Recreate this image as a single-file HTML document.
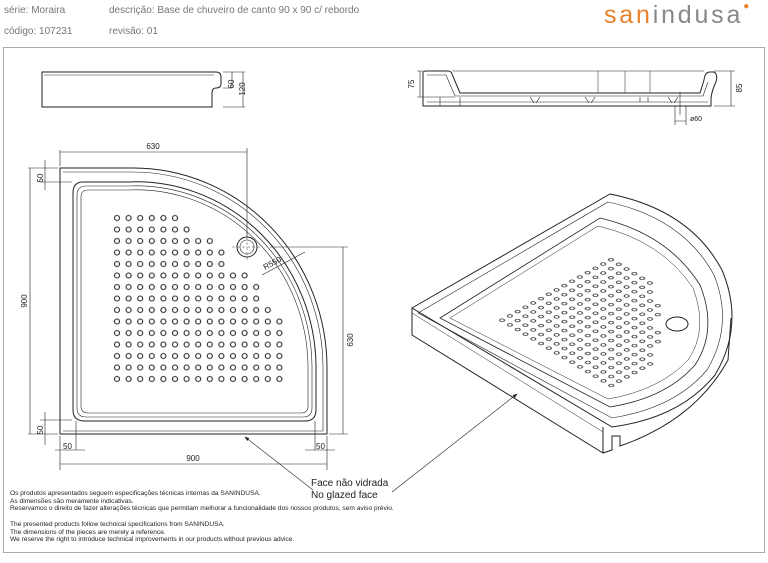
<!DOCTYPE html>
<html><head><meta charset="utf-8"><style>
html,body{margin:0;padding:0;background:#fff;}
body{width:768px;height:563px;position:relative;overflow:hidden;font-family:"Liberation Sans",sans-serif;}
.h{position:absolute;font-size:10px;color:#777;white-space:nowrap;}
.f{position:absolute;left:10px;font-size:6.6px;color:#222;line-height:7.6px;white-space:nowrap;}
</style></head><body>
<div class="h" style="left:4px;top:5px">série: Moraira</div>
<div class="h" style="left:109px;top:5px">descrição: Base de chuveiro de canto 90 x 90 c/ rebordo</div>
<div class="h" style="left:4px;top:26px">código: 107231</div>
<div class="h" style="left:109px;top:26px">revisão: 01</div>
<div style="position:absolute;left:604px;top:1px;font-size:25px;letter-spacing:2.8px;color:#888"><span style="color:#e8822a">san</span>indusa<span style="color:#e8822a;font-size:10px;vertical-align:top">●</span></div>
<div style="position:absolute;left:3px;top:47px;width:760px;height:504px;border:1.5px solid #aaa"></div>
<svg width="768" height="563" style="position:absolute;left:0;top:0" font-family="Liberation Sans,sans-serif">
<defs>
<pattern id="pd" patternUnits="userSpaceOnUse" x="111.2" y="212.25" width="11.6" height="11.5">
<circle cx="5.8" cy="5.75" r="2.5" fill="none" stroke="#222" stroke-width="1.1"/>
</pattern>
<clipPath id="cp"><polygon points="111,212 181,212 181,224 193,224 193,235 216,235 216,247 227,247 227,270 250,270 250,281 262,281 262,304 273,304 273,316 285,316 285,385 111,385"/></clipPath>
<g id="dots"><rect x="111" y="212" width="175" height="174" fill="url(#pd)" clip-path="url(#cp)"/></g>
<marker id="ar" markerWidth="8" markerHeight="6" refX="7" refY="3" orient="auto"><path d="M0,0L8,3L0,6z" fill="#222"/></marker>
</defs>
<g fill="none" stroke="#222" stroke-width="1">
<!-- side profile left -->
<path d="M42,72 L216,72 Q221,72 221,77 L221,84 Q221,88 216,88 Q212,88 212,93 L212,107 L42,107 Z"/>
<line x1="44" y1="75" x2="214" y2="75" stroke-width="0.5"/>
<path d="M223,72 L245,72 M223,88 L232,88 M223,107 L245,107 M232,72 L232,88 M243,72 L243,107" stroke-width="0.6"/>
<!-- section right -->
<path d="M423,73 Q423,71 426,71 L448,71 Q451,71 452,74 L460,93 L700,93 L704,80 Q705,72 710,72 L714,72 Q718,74 716,82 Q712,90 711,98 L711,106 L423,106 Z"/>
<path d="M427,75 L446,75 L455,96 L703,96 L708,82 M427,102 L708,102 M440,97 L440,106 M460,97 L460,106 M530,97 L534,103 M540,97 L536,103 M585,97 L589,103 M595,97 L591,103 M640,97 L640,102 M648,97 L648,102 M668,97 L672,103 M678,97 L674,103" stroke-width="0.6"/>
<path d="M452,71 L704,71 M598,71 L598,93 M625,71 L625,93 M650,71 L650,93" stroke-width="0.5"/>
<path d="M417,71 L423,71 M417,97 L455,97 M420,71 L420,97 M714,71 L735,71 M714,106 L735,106 M731,71 L731,106 M675,106 L675,125 M686,106 L686,125 M675,121 L686,121 M680,92 L680,115" stroke-width="0.6"/>
<!-- plan -->
<path d="M60,168 L133,168 A194 200 0 0 1 327,368 L327,434 L60,434 Z"/>
<path d="M63,172 L133,172 A190 196 0 0 1 323,368 L323,431 L63,431" stroke-width="0.6"/>
<path d="M83,182 L128,182 A180 186 0 0 1 316,366 L316,410 Q316,421 305,421 L85,421 Q73,421 73,410 L73,193 Q73,182 83,182 Z"/>
<path d="M86,186 L128,186 A176 182 0 0 1 312,366 L312,408 Q312,417 303,417 L86,417 Q77,417 77,408 L77,195 Q77,186 86,186 Z" stroke-width="0.6"/>
<path d="M88,190 L128,190 A172 178 0 0 1 308,366 L308,406 Q308,413 301,413 L88,413 Q81,413 81,406 L81,197 Q81,190 88,190 Z" stroke-width="0.6"/>
<circle cx="247" cy="247" r="10"/><circle cx="247" cy="247" r="7" stroke-width="0.6"/>
<path d="M232,247 L262,247 M247,232 L247,262" stroke-width="0.4" stroke-dasharray="3,2"/>
<!-- dims plan -->
<path d="M60,150 L60,166 M247,148 L247,237 M60,152 L247,152" stroke-width="0.6"/>
<path d="M28,168 L58,168 M28,434 L58,434 M30,168 L30,434 M40,182 L72,182 M45,160 L45,190 M40,420 L72,420 M45,412 L45,445 M60,436 L60,470 M76,421 L76,450 M315,421 L315,450 M327,436 L327,470 M55,450 L85,450 M305,450 L335,450 M60,464 L327,464 M270,247 L348,247 M329,434 L348,434 M343,247 L343,434 M262,275 L305,252" stroke-width="0.6"/>
<!-- leaders -->
<line x1="313" y1="490" x2="245" y2="437" stroke-width="0.6" marker-end="url(#ar)"/>
<line x1="392" y1="492" x2="517" y2="394" stroke-width="0.6" marker-end="url(#ar)"/>
<!-- 3D -->
<path d="M412,308 L610,194 Q690,210 722,270 Q745,325 715,375 Q680,418 612,427 Z"/>
<path d="M412,308 L412,335 L603,453 L603,427 M603,453 L612,450 L612,436 L620,436 L620,446 Q695,420 728,360 L731,318"/>
<path d="M418,313 L608,202 Q683,218 714,275 Q734,325 707,370 Q675,408 612,418 Z" stroke-width="0.6"/>
<path d="M440,318 L600,218 Q668,234 700,285 Q718,330 695,365 Q666,398 610,407 Z" stroke-width="0.8"/>
<path d="M450,318 L598,226 Q662,241 693,288 Q709,330 688,360 Q660,390 608,399 Z" stroke-width="0.5"/>
<path d="M412,313 L603,432" stroke-width="0.5"/>
<ellipse cx="677" cy="324" rx="11" ry="7"/>
</g>
<use href="#dots" transform="matrix(0.672,0.402,-0.676,0.376,679.7,130.7)"/>
<use href="#dots"/>
<g font-size="8" fill="#222">
<text x="153" y="149" text-anchor="middle">630</text>
<text x="193" y="461" text-anchor="middle">900</text>
<text x="63" y="449">50</text>
<text x="316" y="449">50</text>
<text transform="translate(27,301) rotate(-90)" text-anchor="middle">900</text>
<text transform="translate(43,178) rotate(-90)" text-anchor="middle">50</text>
<text transform="translate(43,430) rotate(-90)" text-anchor="middle">50</text>
<text transform="translate(353,340) rotate(-90)" text-anchor="middle">630</text>
<text transform="translate(265,270) rotate(-28)">R550</text>
<text transform="translate(234,84) rotate(-90)" text-anchor="middle">60</text>
<text transform="translate(245,89) rotate(-90)" text-anchor="middle">120</text>
<text transform="translate(414,84) rotate(-90)" text-anchor="middle">75</text>
<text transform="translate(742,88) rotate(-90)" text-anchor="middle">85</text>
<text x="690" y="121" font-size="7">ø60</text>
</g>
<text x="311" y="486" font-size="10" fill="#222">Face não vidrada</text>
<text x="311" y="498" font-size="10" fill="#222">No glazed face</text>
</svg>
<div class="f" style="top:490px">Os produtos apresentados seguem especificações técnicas internas da SANINDUSA.<br>As dimensões são meramente indicativas.<br>Reservamos o direito de fazer alterações técnicas que permitam melhorar a funcionalidade dos nossos produtos, sem aviso prévio.</div>
<div class="f" style="top:521px">The presented products follow technical specifications from SANINDUSA.<br>The dimensions of the pieces are merely a reference.<br>We reserve the right to introduce technical improvements in our products without previous advice.</div>
</body></html>
